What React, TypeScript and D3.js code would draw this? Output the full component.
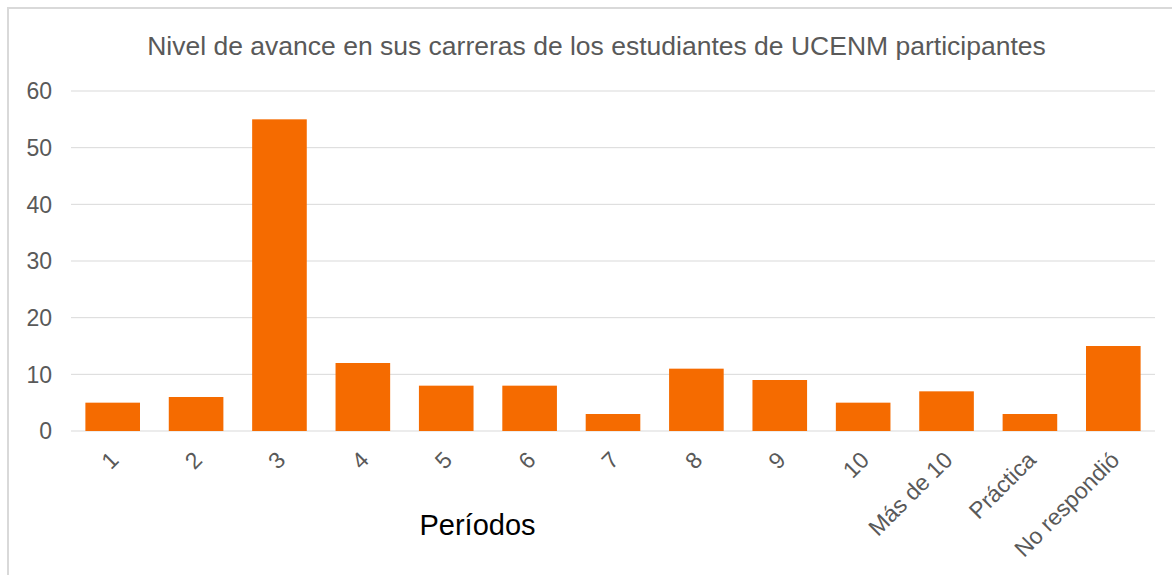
import React from "react";
import * as d3 from "d3";

const categories = ["1", "2", "3", "4", "5", "6", "7", "8", "9", "10", "Más de 10", "Práctica", "No respondió"];
const values = [5, 6, 55, 12, 8, 8, 3, 11, 9, 5, 7, 3, 15];
const yTicks = [0, 10, 20, 30, 40, 50, 60];
const title = "Nivel de avance en sus carreras de los estudiantes de UCENM participantes";
const xTitle = "Períodos";

export default function App() {
  const W = 1172, H = 575;
  const left = 71, right = 1155, top = 91, bottom = 431;
  const x = d3.scaleBand<string>().domain(categories).range([left, right]).paddingInner(0.345).paddingOuter(0.1725);
  const y = d3.scaleLinear().domain([0, 60]).range([bottom, top]);
  const font = "'Liberation Sans', Arial, sans-serif";
  return (
    <svg width={W} height={H} style={{ position: "absolute", left: 0, top: 0 }} fontFamily={font}>
      <rect x={0} y={0} width={W} height={H} fill="#fff" />
      <path d={`M8,${H} V8 H${W}`} fill="none" stroke="#D9D9D9" strokeWidth={2} />
      <text x={596.5} y={55} textAnchor="middle" fontSize={26.5} fill="#595959">{title}</text>
      {yTicks.map((t) => (
        <g key={t}>
          <line x1={left} x2={right} y1={y(t)} y2={y(t)} stroke="#D9D9D9" strokeWidth={1} />
          <text x={52} y={y(t)} dy="0.36em" textAnchor="end" fontSize={23} fill="#595959">{t}</text>
        </g>
      ))}
      {categories.map((c, i) => (
        <rect key={c} x={x(c)} y={y(values[i])} width={x.bandwidth()} height={y(0) - y(values[i])} fill="#F56B00" />
      ))}
      {categories.map((c) => {
        const cx = (x(c) as number) + x.bandwidth() / 2 - 4;
        return (
          <text key={c} transform={`translate(${cx},${450}) rotate(-45)`} textAnchor="end" dy="0.7em" fontSize={23} fill="#595959">{c}</text>
        );
      })}
      <text x={477.5} y={535} textAnchor="middle" fontSize={29} fill="#000">{xTitle}</text>
    </svg>
  );
}
